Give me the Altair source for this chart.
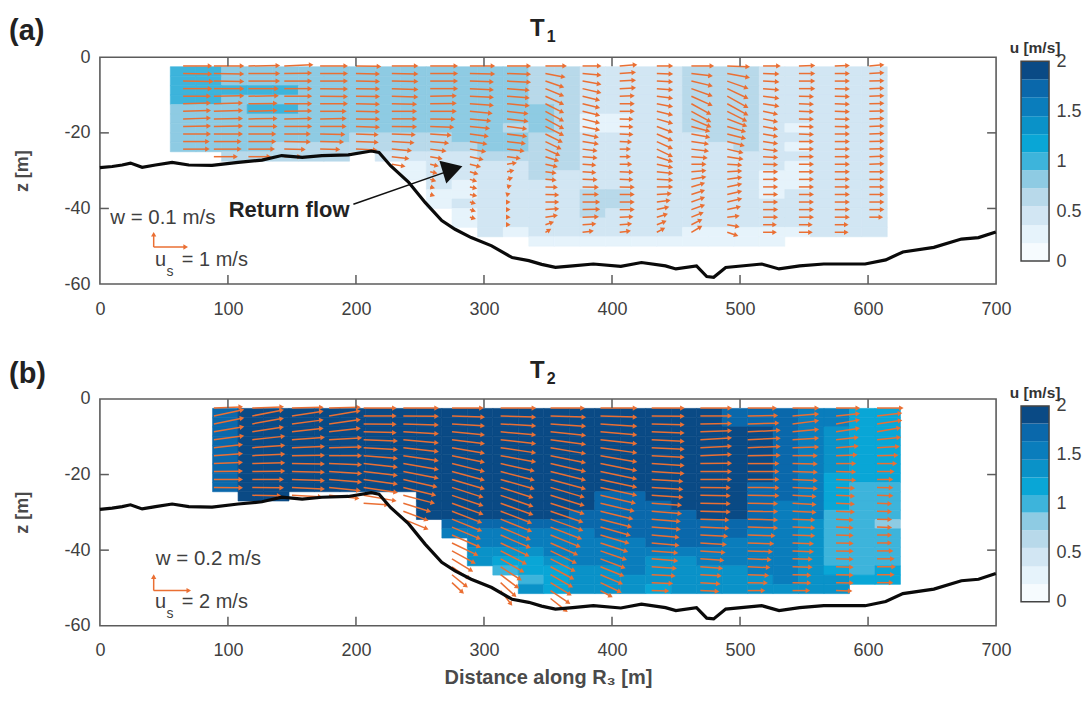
import math
import altair as alt
import pandas as pd

FONT = "Liberation Sans"
TEXT = "#3f3f3f"
FRAME = "#5c5c5c"
ORANGE = "#ea6f33"
PX_X = 897 / 700
PX_Z = 227 / 60

X_TICKS = [0, 100, 200, 300, 400, 500, 600, 700]
Z_TICKS = [0, -20, -40, -60]
CB_TICKS = [0, 0.5, 1, 1.5, 2]
CB_EDGES = [0, 0.18, 0.36, 0.55, 0.73, 0.91, 1.09, 1.27, 1.45, 1.64, 1.82, 2]
LEVELS = "0123456789a"
PALETTE = ["#f6fbfe", "#e6f3fb", "#d2e6f3", "#b8d9ea", "#8ecbe3", "#3db4db",
           "#09a6d6", "#0a92c8", "#0a7dbc", "#0a68ab", "#0a4a85"]

BED_X = [0, 9.6, 17.4, 23.9, 33, 43.4, 56.4, 69.4, 87.6, 108, 126.6, 142, 158, 173.4, 194, 212, 218, 227,
         241, 254, 267, 277.4, 290, 306, 322, 335, 345, 355.8, 369.3, 385.4, 406.9, 423, 441.8, 449.9, 466,
         474, 479.4, 488.8, 517, 530.5, 546.6, 565.4, 597.7, 613.8, 627.2, 651.4, 672.9, 686.3, 699.8]
BED_Z = [-29.2, -28.9, -28.5, -28, -29.1, -28.5, -27.8, -28.5, -28.6, -27.8, -27.2, -26, -26.5, -26, -25.8,
         -24.8, -25.2, -28.7, -33, -38.4, -43.2, -45.5, -47.7, -49.9, -53, -53.8, -54.8, -55.6, -55.2, -54.7,
         -55.3, -54.3, -55.2, -56, -55.2, -58, -58.2, -55.6, -54.7, -56, -55.2, -54.7, -54.7, -53.6, -51.5,
         -50.3, -48.1, -47.7, -46.2]

GRID_A = [
    "5544444444444433222233322222",
    "5544444444444433222233322222",
    "5555544444444433222233322222",
    "5544444444444433222233322222",
    "4445544444444443222233322222",
    "4444444444444443112233322222",
    "4444444444444343112233321222",
    "4444444333344433222223322222",
    "4444333333334433222222321222",
    "..33333.22223333222222222222",
    ".........1222233222222221222",
    ".........1222232222222211222",
    "..........212222222222211222",
    "..........112222332222212222",
    "..........122222332222222222",
    "...........12222322222222222",
    "...........12222222222222222",
    "............2122222211111222",
    "..............1111111111",
]
GRID_B = [
    "9aaaaaaaaaaaaaaaaaaa9998866",
    "9aaaaaaaaaaaaaaaaaaa9998866",
    "9aaaaaaaaaaaaaaaaaaaaa98766",
    "9aaaaaaaaaaaaaaaaaaaaa98766",
    "9aaaaaaaaaaaaaaaaaaaaa98766",
    "9aaaaaaaaaaaaaaaaaaaaa98766",
    "9aaaaaaaaaaaaaaaaaaaaa98766",
    "9aaaaaaaaaaaaaaaaaaaaa98666",
    "9aaaaaaaaaaaaaaaaaaaa998655",
    ".aa.....aaaaaaa99aaaa998655",
    "........aaaaaaa999aaa988655",
    "........aaaaaa99999aa988555",
    ".........999999999999987554",
    ".........888888999999887555",
    "..........88888889998887555",
    "..........77788888888887555",
    "..........76678887788887555",
    "...........5667787777887656",
    "............567777777787766",
    "............7677767777777",
]

DEPTH_A = [-2.3, -4.3, -6.3, -8.3, -10.3, -12.3, -14.3, -16.3, -18.3, -20.3, -22.3, -24.3, -26.3, -28.3, -30.3,
           -32.3, -34.3, -36.3, -38.3, -40.3, -42.3, -44.3, -46.3]
DEPTH_B = [-2.4, -4.5, -6.6, -8.7, -10.8, -12.9, -15, -17.1, -19.2, -21.3, -23.4, -25.5, -27.6, -29.7, -31.8,
           -33.9, -36, -38.1, -40.2, -42.3, -44.4, -46.5, -48.6, -50.7, -52.8]

TAIL_A = [65, 89, 116, 144, 172, 200, 228, 258, 289, 318, 348, 377, 406, 435, 462, 490, 518, 546, 574, 601]
DX_A = [
    [21, 21, 22, 21, 20, 20, 20, 20, 20, 20, 19, 19],
    [22, 22, 22, 22, 22, 21, 21, 21, 21, 21, 20, 20, 17],
    [23, 23, 23, 22, 22, 21, 21, 21, 21, 20, 20, 19, 16],
    [21, 20, 20, 20, 20, 20, 20, 20, 20, 19, 19, 15, 12],
    [20, 20, 20, 20, 20, 20, 19, 19, 19, 18, 17, 14],
    [18, 17, 17, 17, 17, 17, 17, 17, 17, 16, 16, 15],
    [19, 19, 19, 19, 19, 18, 18, 18, 18, 17, 16, 14, 12, 9],
    [20, 20, 20, 20, 19, 19, 19, 18, 17, 15, 13, 11, 8, 5, 4, 3, 2, 2],
    [18, 18, 17, 17, 17, 17, 16, 15, 14, 13, 12, 11, 9, 7, 5, 4, 4, 4, 3, 3, 3],
    [17, 17, 17, 16, 16, 16, 15, 15, 14, 14, 13, 12, 9, 6, 4, 3, 2, 1, 1, 1, 1, 1],
    [15, 14, 13, 13, 13, 13, 13, 13, 13, 12, 11, 10, 9, 8, 7, 7, 8, 9, 9, 9, 8, 5, 3],
    [13, 13, 13, 13, 12, 12, 12, 12, 12, 11, 11, 10, 10, 9, 9, 10, 11, 11, 12, 12, 11, 9, 7],
    [12, 11, 11, 11, 10, 10, 10, 9, 9, 9, 8, 7, 7, 8, 9, 9, 10, 10, 10, 10, 9, 8, 7],
    [11, 11, 11, 11, 11, 11, 11, 11, 11, 11, 11, 11, 11, 11, 11, 11, 11, 10, 9, 8, 7, 6, 5],
    [16, 15, 15, 15, 15, 14, 14, 14, 13, 13, 12, 12, 11, 10, 10, 10, 9, 9, 9, 9, 8, 7, 7],
    [16, 16, 15, 15, 15, 15, 14, 14, 13, 13, 12, 11, 11, 10, 10, 10, 10, 10, 10, 9, 8, 8, 7],
    [12, 11, 11, 11, 11, 11, 10, 10, 10, 10, 10, 10, 10, 10, 10, 10, 10, 10, 10, 10, 10, 9, 9],
    [11, 11, 11, 11, 10, 10, 10, 10, 10, 10, 10, 10, 10, 10, 10, 10, 10, 10, 10, 10, 10, 9, 9],
    [10, 10, 10, 10, 10, 10, 10, 10, 10, 10, 10, 10, 10, 10, 10, 10, 10, 10, 10, 10, 10, 9, 9],
    [10, 10, 10, 10, 10, 10, 10, 10, 10, 10, 10, 10, 10, 10, 10, 10, 10, 10, 10, 10, 9],
]
DZ_A = [
    [0, .1, .1, 0, 0, -.2, -.2, -.2, -.1, 0, 0, 0],
    [0, .1, .1, 0, -.1, -.2, -.2, -.1, -.1, 0, 0, 0, 0],
    [-.1, 0, 0, 0, -.1, -.1, -.2, -.1, 0, 0, 0, 0, 0],
    [-.3, -.1, 0, 0, 0, 0, -.1, -.1, 0, 0, .1, .1, 0],
    [0, 0, 0, .1, .1, 0, 0, -.1, 0, .1, .1, .1],
    [.1, .1, .1, .1, .1, .1, .1, .1, .2, .2, .2, .2],
    [0, .1, .1, .2, .2, .1, 0, 0, .1, .2, .3, .4, .5, .5],
    [0, 0, 0, 0, -.1, -.1, 0, .1, .2, .3, .4, .5, .5, .4, .3, .3, .2, .2],
    [0, .1, .2, .3, .3, .4, .5, .5, .5, .6, .6, .6, .7, .6, .5, .4, .3, .3, .3, .3, .3],
    [0, .2, .3, .4, .4, .5, .6, .6, .6, .6, .5, .5, .4, -.3, -.3, -.3, -.2, -.1, 0, 0, 0, 0],
    [0, .9, 1.5, 1.8, 2, 2.2, 2.4, 2.4, 2.2, 2, 1.8, 1.5, 1, .6, .3, .2, .1, .1, 0, -.2, -.4, -.6, -.6],
    [0, .4, .8, 1, 1, 1, 1, 1, .9, .8, .6, .4, .3, .2, .2, .1, .1, 0, 0, -.1, -.1, -.2, -.3],
    [-.3, -.3, -.2, -.2, -.1, 0, 0, .1, .1, .1, .1, 0, 0, 0, .1, .1, .1, 0, 0, 0, -.1, -.2, -.3],
    [0, .1, .2, .3, .5, .7, .9, 1.1, 1.4, 1.6, 1.7, 1.8, 1.2, .8, .4, .2, 0, -.2, -.4, -.6, -.7, -.8, -.9],
    [0, .6, 1.2, 1.8, 2.3, 2.6, 2.6, 2, 1.2, .8, .6, .5, .3, 0, -.3, -.6, -.9, -1, -1.1, -1.1, -1.1, -1.2, -1.4],
    [.2, 1, 1.8, 2.4, 2.8, 2.8, 2.4, 1.8, 1.3, 1.1, 1, .9, .6, .2, -.2, -.5, -.7, -.8, -.8, -.7, -.3, .5, .8],
    [0, .1, .2, .3, .5, .6, .7, .7, .7, .6, .5, .4, .2, .1, 0, 0, 0, 0, 0, 0, 0, 0, 0],
    [-.1, 0, 0, 0, .1, .1, .1, .1, .1, .1, 0, 0, 0, 0, 0, 0, 0, 0, 0, 0, 0, 0, 0],
    [-.1, 0, 0, .1, .1, .1, .1, .1, .1, 0, 0, 0, 0, 0, 0, 0, 0, 0, 0, 0, 0, 0, 0],
    [-.3, -.2, -.1, -.1, -.1, -.1, -.1, -.1, -.1, -.1, -.1, -.1, -.1, -.1, 0, 0, 0, 0, 0, 0, 0],
]

TAIL_B = [89, 119, 150, 179, 206, 237, 275, 313, 352, 391, 431, 469, 506, 541, 575, 607]
DX_B = [
    [21, 22, 22, 22, 22, 21, 21, 21, 21, 21, 21],
    [23, 23, 23, 23, 24, 24, 24, 24, 24, 23, 23, 21],
    [23, 23, 23, 23, 24, 24, 24, 24, 24, 24, 24, 22],
    [23, 23, 23, 23, 24, 24, 24, 24, 24, 24, 23, 22],
    [24, 24, 24, 24, 25, 25, 25, 25, 25, 25, 25, 24, 18],
    [26, 26, 26, 26, 26, 26, 26, 26, 26, 25, 24, 23, 20, 18, 18],
    [23, 24, 24, 24, 24, 24, 24, 24, 24, 24, 23, 23, 23, 22, 22, 21, 21, 19, 17, 15, 13, 11, 8],
    [26, 26, 26, 26, 26, 26, 26, 25, 25, 25, 24, 24, 24, 23, 23, 22, 22, 21, 19, 17, 15, 13, 11, 8],
    [25, 26, 26, 26, 26, 26, 26, 26, 26, 26, 25, 25, 25, 24, 24, 23, 22, 20, 19, 18, 17, 16, 15, 14, 12],
    [27, 27, 27, 27, 27, 27, 27, 27, 27, 27, 27, 26, 25, 24, 23, 22, 21, 20, 19, 18, 17, 16, 15, 8],
    [24, 24, 24, 24, 24, 24, 24, 24, 24, 23, 23, 23, 22, 22, 21, 21, 20, 20, 19, 19, 18, 17, 15, 12],
    [23, 23, 23, 23, 23, 23, 23, 23, 23, 23, 22, 22, 22, 22, 21, 21, 20, 19, 18, 17, 16, 15, 14, 13],
    [21, 22, 23, 24, 24, 24, 24, 23, 23, 23, 23, 23, 22, 22, 22, 22, 20, 19, 18, 17, 16, 15, 14, 12],
    [19, 19, 19, 19, 19, 19, 18, 18, 18, 18, 18, 17, 17, 17, 16, 16, 16, 15, 15, 14, 14, 13, 13, 12],
    [17, 17, 17, 17, 16, 16, 15, 14, 14, 14, 13, 13, 13, 13, 12, 12, 12, 12, 12, 12, 12, 12, 12, 11],
    [19, 18, 18, 17, 17, 16, 15, 14, 12, 11, 11, 11, 10, 10, 10, 10, 10, 10, 11, 12, 13, 12, 11],
]
DZ_B = [
    [-.3, -1.6, -1.5, -1.3, -1, -.8, -.5, -.3, -.1, 0, .1],
    [-.3, -1.5, -1.4, -1.2, -.9, -.6, -.4, -.2, -.1, 0, .1, .1],
    [-.2, -1.2, -1, -.9, -.6, -.3, -.1, .1, .2, .3, .4, .4],
    [-.2, -1.3, -1.1, -.9, -.5, -.2, 0, .3, .5, .7, .8, .8],
    [0, 0, .1, .2, .3, .5, .7, .9, 1, 1.2, 1.3, 1.4, .4],
    [0, .1, .3, .5, .8, 1, 1.3, 1.5, 1.7, 1.9, 2, 2, 2.1, 2.3, 2.5],
    [0, .3, .5, .8, 1, 1.4, 1.7, 2, 2.2, 2.4, 2.5, 2.6, 2.8, 2.9, 3, 3, 3.1, 3.1, 3.1, 3.1, 3, 3, 2.5],
    [0, .3, .5, .8, 1, 1.3, 1.6, 1.9, 2.2, 2.4, 2.6, 2.8, 2.9, 3, 3.1, 3.2, 3.2, 3.3, 3.3, 3.3, 3.3, 3.3, 3.4, 3.5],
    [0, .3, .6, .9, 1.2, 1.5, 1.8, 2, 2.2, 2.4, 2.5, 2.6, 2.7, 2.8, 2.9, 3, 3, 3, 3.1, 3.1, 3.1, 3.1, 3.1, 3.2, 3.2],
    [0, .3, .6, .8, 1, 1.3, 1.6, 1.8, 1.9, 2, 2, 2, 2, 2, 2, 2.1, 2.1, 2.2, 2.2, 2.3, 2.3, 2.3, 2.4, 1.5],
    [0, .1, .2, .3, .4, .4, .4, .5, .5, .5, .5, .5, .5, .6, .6, .6, .6, .6, .5, .5, .4, .3, .2, .1],
    [0, 0, -.1, -.3, -.5, -.4, -.3, -.1, 0, 0, .1, .1, .1, .2, .2, .3, .3, .4, .4, .4, .4, .3, .3, .2],
    [0, -.1, -.2, -.4, -.4, -.3, -.1, 0, 0, 0, .1, .1, .1, .1, .2, .2, .2, .2, .2, .2, .2, .2, .1, 0],
    [0, -.5, -.8, -.6, -.4, -.2, 0, .1, .2, .3, .3, .3, .3, .3, .2, .2, .2, .2, .2, .1, .1, .1, .1, 0],
    [0, -.6, -1, -.9, -.6, -.4, -.2, 0, .1, .2, .2, .2, .2, .2, .2, .2, .1, .1, .1, .1, .1, .1, .1, .1],
    [0, -.7, -.9, -1, -.6, -.3, -.1, 0, 0, 0, .1, .1, .1, .1, .1, .1, 0, 0, 0, 0, 0, 0, 0],
]

X_SCALE = alt.Scale(domain=[0, 700], nice=False, zero=False)
Z_SCALE = alt.Scale(domain=[-60, 0], nice=False, zero=False)


def make_x_axis(title):
    return alt.Axis(values=X_TICKS, ticks=False, domain=False, grid=False, labelFont=FONT, labelFontSize=18,
                    labelColor=TEXT, labelPadding=16, labelFlush=False, labelOverlap=False,
                    labelExpr="'' + datum.value", title=title, titleFont=FONT, titleFontSize=20,
                    titleFontWeight="bold", titleColor="#4a4a4a", titlePadding=8)


Z_AXIS = alt.Axis(values=Z_TICKS, ticks=False, domain=False, grid=False, labelFont=FONT, labelFontSize=18,
                  labelColor=TEXT, labelPadding=10, labelFlush=False, labelOverlap=False,
                  labelExpr="'' + datum.value", title="z [m]", titleFont=FONT, titleFontSize=18,
                  titleFontWeight="bold", titleColor="#4a4a4a", titlePadding=32)
CURRENT = {"x": None}


def xq(field):
    return alt.X(f"{field}:Q", scale=X_SCALE, axis=CURRENT["x"])


def zq(field):
    return alt.Y(f"{field}:Q", scale=Z_SCALE, axis=Z_AXIS)


def cells(grid, x0, dx, z0, dz, ncols):
    rows = []
    for r, row in enumerate(grid):
        for c, ch in enumerate(row[:ncols]):
            if ch in LEVELS:
                rows.append({"x": x0 + c * dx, "x2": x0 + (c + 1) * dx,
                             "z": z0 - r * dz, "z2": z0 - (r + 1) * dz, "lev": ch})
    return pd.DataFrame(rows)


def arrows(tails, dxs, dzs, depths):
    rows = []
    for t, dx_list, dz_list in zip(tails, dxs, dzs):
        for i, (a, b) in enumerate(zip(dx_list, dz_list)):
            ang = math.degrees(math.atan2(b * PX_Z, a * PX_X)) % 360
            rows.append({"x": t, "x2": t + a, "z": depths[i], "z2": depths[i] - b, "ang": ang})
    return pd.DataFrame(rows)


def arrow_layers(df):
    shaft = alt.Chart(df).mark_rule(color=ORANGE, strokeWidth=1.5).encode(
        x=xq("x"), x2="x2:Q", y=zq("z"), y2="z2:Q")
    head = alt.Chart(df).mark_point(shape="triangle-right", filled=True, size=28, color=ORANGE, opacity=1).encode(
        x=xq("x2"), y=zq("z2"), angle=alt.Angle("ang:Q", scale=None))
    return [shaft, head]


def label(x, z, s, size, bold=False, align="left"):
    return alt.Chart(pd.DataFrame({"x": [x], "z": [z], "s": [s]})).mark_text(
        font=FONT, fontSize=size, fontWeight="bold" if bold else "normal", color=TEXT if not bold else "#222222",
        align=align, baseline="middle").encode(x=xq("x"), y=zq("z"), text="s:N")


def panel(tag, tag_z, sub, grid, x0, dx, ncols, tails, dxs, dzs, depths, dcell, w_text, w_x, us_text, key, xtitle):
    CURRENT["x"] = make_x_axis(xtitle)
    df = cells(grid, x0, dx, -2.5, dcell, ncols)
    heat = alt.Chart(df).mark_rect(strokeWidth=0.6).encode(
        x=xq("x"), x2="x2:Q", y=zq("z"), y2="z2:Q",
        color=alt.Color("lev:N", scale=alt.Scale(domain=list(LEVELS), range=PALETTE), legend=None),
        stroke=alt.Stroke("lev:N", scale=alt.Scale(domain=list(LEVELS), range=PALETTE), legend=None))

    layers = [heat] + arrow_layers(arrows(tails, dxs, dzs, depths))

    ticks = pd.DataFrame(
        [{"x": v, "x2": v, "z": -60, "z2": -57.6} for v in X_TICKS[1:-1]] +
        [{"x": v, "x2": v, "z": 0, "z2": -2.4} for v in X_TICKS[1:-1]] +
        [{"x": 0, "x2": 7, "z": v, "z2": v} for v in Z_TICKS[1:-1]] +
        [{"x": 693, "x2": 700, "z": v, "z2": v} for v in Z_TICKS[1:-1]])
    layers.append(alt.Chart(ticks).mark_rule(color=FRAME, strokeWidth=1.5).encode(
        x=xq("x"), x2="x2:Q", y=zq("z"), y2="z2:Q"))

    box = pd.DataFrame({"x": [X_TICKS[0]], "x2": [X_TICKS[-1]], "z": [Z_TICKS[-1]], "z2": [Z_TICKS[0]]})
    layers.append(alt.Chart(box).mark_rect(fillOpacity=0, stroke=FRAME, strokeWidth=1.6).encode(
        x=xq("x"), x2="x2:Q", y=zq("z"), y2="z2:Q"))

    bed = pd.DataFrame({"x": BED_X, "z": BED_Z})
    layers.append(alt.Chart(bed).mark_line(color="#0a0a0a", strokeWidth=3.2).encode(x=xq("x"), y=zq("z")))

    layers.append(label(-71, tag_z, tag, 29, bold=True))
    layers.append(label(336, 7.4, "T", 24, bold=True))
    layers.append(label(349, 5.3, sub, 16, bold=True))
    layers.append(label(w_x, -42.4, w_text, 20.5))
    layers.append(label(43, -53.7, "u", 20))
    layers.append(label(52, -56.8, "s", 14))
    layers.append(label(64, -53.7, us_text, 20))

    key_df = pd.DataFrame(key)
    key_df["ang"] = [270.0, 0.0]
    layers.extend(arrow_layers(key_df))
    return layers


def colorbar(top_domain, height, cap_gap):
    bands = pd.DataFrame({"y": CB_EDGES[:-1], "y2": CB_EDGES[1:], "lev": list(LEVELS)})
    cb_scale = alt.Scale(domain=[0, top_domain], nice=False, zero=False)
    axis = alt.Axis(values=CB_TICKS, orient="right", ticks=False, domain=False, grid=False, labelFont=FONT,
                    labelFontSize=18, labelColor=TEXT, labelPadding=7, labelFlush=False, labelOverlap=False,
                    labelExpr="'' + datum.value", title=None)
    rect = alt.Chart(bands).mark_rect().encode(
        x=alt.value(0), x2=alt.value(28),
        y=alt.Y("y:Q", scale=cb_scale, axis=axis), y2="y2:Q",
        color=alt.Color("lev:N", scale=alt.Scale(domain=list(LEVELS), range=PALETTE), legend=None))
    frame = alt.Chart(pd.DataFrame({"y": [0], "y2": [2]})).mark_rect(
        fillOpacity=0, stroke="#444444", strokeWidth=1.5).encode(
        x=alt.value(0), x2=alt.value(28), y=alt.Y("y:Q", scale=cb_scale, axis=axis), y2="y2:Q")
    cap = alt.Chart(pd.DataFrame({"y": [top_domain + cap_gap], "s": ["u [m/s]"]})).mark_text(
        font=FONT, fontSize=15.5, fontWeight="bold", color="#333333", align="center", baseline="middle").encode(
        x=alt.value(14), y=alt.Y("y:Q", scale=cb_scale, axis=axis), text="s:N")
    return alt.layer(rect, frame, cap).properties(width=28, height=height)


def with_return_flow(layers):
    line = pd.DataFrame({"x": [198], "x2": [281.6], "z": [-38.9], "z2": [-29]})
    layers.append(alt.Chart(line).mark_rule(color="#111111", strokeWidth=1.5).encode(
        x=xq("x"), x2="x2:Q", y=zq("z"), y2="z2:Q"))
    head = pd.DataFrame({"x": [275.5], "z": [-29.6], "ang": [343]})
    layers.append(alt.Chart(head).mark_point(shape="triangle-right", filled=True, size=560, color="#111111",
                                             opacity=1).encode(
        x=xq("x"), y=zq("z"), angle=alt.Angle("ang:Q", scale=None)))
    layers.append(label(100.6, -40.4, "Return flow", 22, bold=True))
    return layers


layers_a = with_return_flow(panel(
    "(a)", 6.9, "1", GRID_A, 55, 20, 28, TAIL_A, DX_A, DZ_A, DEPTH_A, 2.5, "w = 0.1 m/s", 8, "= 1 m/s",
    {"x": [42, 42], "x2": [42, 67], "z": [-50.2, -50.2], "z2": [-46.8, -50.2]}, None))
panel_a = alt.layer(*layers_a).properties(width=897, height=227)

layers_b = panel(
    "(b)", 6.6, "2", GRID_B, 88, 19.9, 27, TAIL_B, DX_B, DZ_B, DEPTH_B, 2.45, "w = 0.2 m/s", 43.7, "= 2 m/s",
    {"x": [42, 42], "x2": [42, 69.4], "z": [-50.7, -50.7], "z2": [-47, -50.7]}, "Distance along R₃ [m]")
panel_b = alt.layer(*layers_b).properties(width=897, height=227)

chart = alt.concat(
    panel_a, colorbar(2.04, 204, 0.09), panel_b, colorbar(2.071, 203, 0.06),
    columns=2, spacing={"row": 115, "column": 25}, bounds="flush",
).properties(padding={"left": 1, "top": 8, "right": 2, "bottom": 0}
).configure_view(stroke=None)

chart.save("out.html", embed_options={"renderer": "svg", "actions": False})
